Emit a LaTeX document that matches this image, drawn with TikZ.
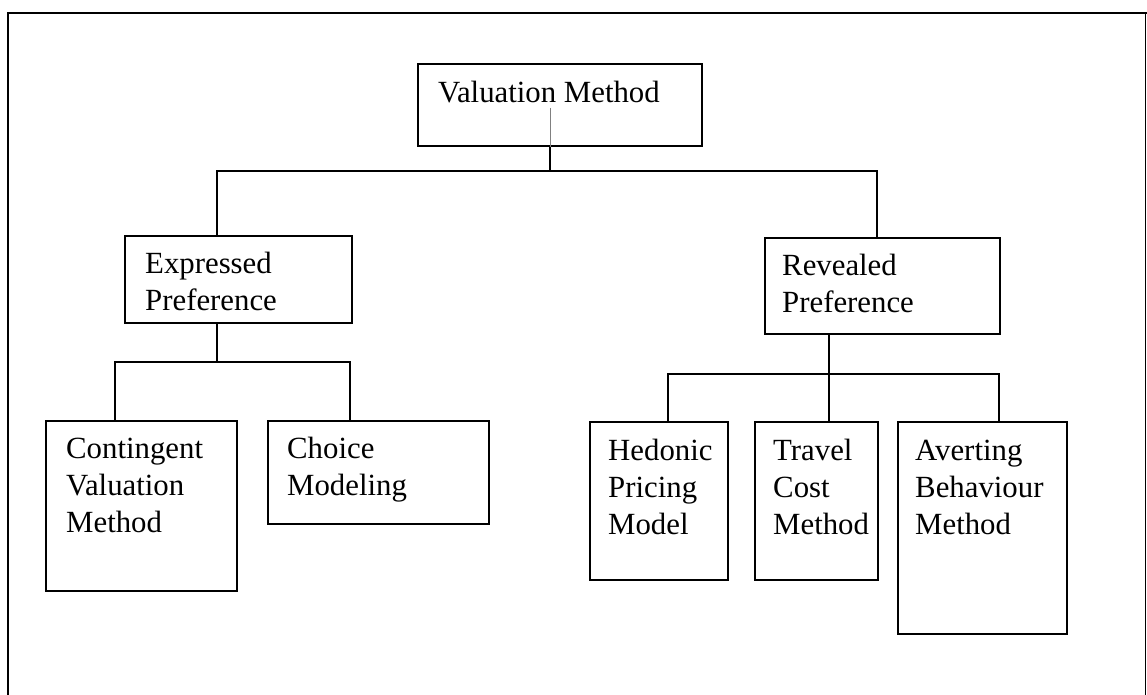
\documentclass[tikz,border=0pt]{standalone}
\usepackage{fontspec}
\setmainfont{Liberation Serif}
\begin{document}
\begin{tikzpicture}[x=1pt,y=-1pt,
  box/.style={draw, line width=1.6pt, anchor=north west, inner sep=0pt},
  lbl/.style={anchor=base west, align=left, inner sep=0pt, font=\fontsize{30.8}{37}\selectfont},
  conn/.style={line width=1.6pt},
  frame/.style={line width=1.4pt}]
\useasboundingbox (0,0) rectangle (1147,695);
% outer frame
\coordinate (f1) at (8,695);
\coordinate (f2) at (8,13);
\coordinate (f3) at (1147,13);
\coordinate (f4) at (1145.5,13);
\coordinate (f5) at (1145.5,695);
\draw[frame] (f1) -- (f2) -- (f3);
\draw[line width=1pt] (f4) -- (f5);
% boxes
\node[box, minimum width=284pt, minimum height=82pt] (vm) at (417,63) {};
\node[box, minimum width=227pt, minimum height=87pt] (ep) at (124,235) {};
\node[box, minimum width=235pt, minimum height=96pt] (rp) at (764,237) {};
\node[box, minimum width=191pt, minimum height=170pt] (cv) at (45,420) {};
\node[box, minimum width=221pt, minimum height=103pt] (cm) at (267,420) {};
\node[box, minimum width=138pt, minimum height=158pt] (hp) at (589,421) {};
\node[box, minimum width=123pt, minimum height=158pt] (tc) at (754,421) {};
\node[box, minimum width=169pt, minimum height=212pt] (ab) at (897,421) {};
% texts (anchor = baseline of last line)
\node[lbl] (vmt) at (438,103) {Valuation Method};
\node[lbl] (ept) at (145,310) {Expressed\\Preference};
\node[lbl] (rpt) at (782,312) {Revealed\\Preference};
\node[lbl] (cvt) at (66,532) {Contingent\\Valuation\\Method};
\node[lbl] (cmt) at (287,495) {Choice\\Modeling};
\node[lbl] (hpt) at (608,534) {Hedonic\\Pricing\\Model};
\node[lbl] (tct) at (773,534) {Travel\\Cost\\Method};
\node[lbl] (abt) at (915,534) {Averting\\Behaviour\\Method};
% junction coordinates
\coordinate (j1) at (550,171);
\coordinate (xe) at (217,171);
\coordinate (xr) at (877,171);
\coordinate (j2) at (217,362);
\coordinate (xcv) at (115,362);
\coordinate (xcm) at (350,362);
\coordinate (j3) at (829,374);
\coordinate (xhp) at (668,374);
\coordinate (xab) at (999,374);
\coordinate (vin) at (550,108);
% thin inner line in top box
\draw[gray, line width=0.5pt] (vin) -- (vin |- vm.south);
% connectors
\draw[conn] (vm.south -| j1) -- (j1);
\draw[conn] (ep.north -| xe) -- (xe) -- (xr) -- (rp.north -| xr);
\draw[conn] (ep.south -| j2) -- (j2);
\draw[conn] (cv.north -| xcv) -- (xcv) -- (xcm) -- (cm.north -| xcm);
\draw[conn] (rp.south -| j3) -- (tc.north -| j3);
\draw[conn] (hp.north -| xhp) -- (xhp) -- (xab) -- (ab.north -| xab);
\end{tikzpicture}
\end{document}
